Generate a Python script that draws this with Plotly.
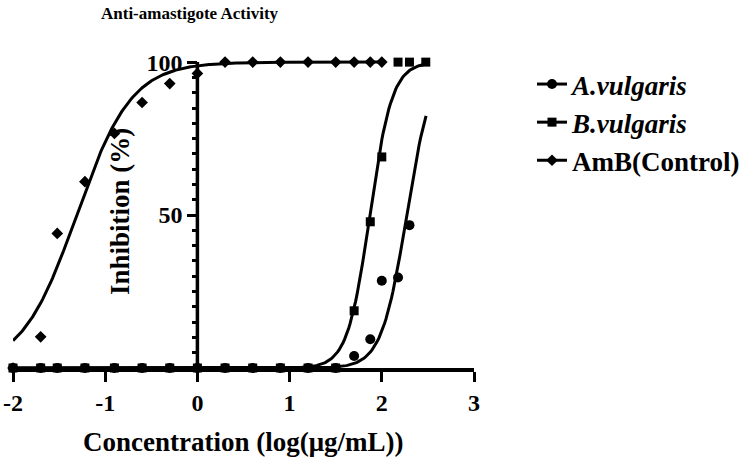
import numpy as np
import plotly.graph_objects as go

# ---- data ----
conc_low = [-2, -1.7, -1.52, -1.22, -0.9, -0.6, -0.3, 0, 0.3, 0.6, 0.9, 1.2, 1.5]
a_x = conc_low + [1.7, 1.875, 2.0, 2.176, 2.3]
a_y = [0] * 13 + [3.9, 9.4, 28.5, 29.6, 46.7]
b_x = conc_low + [1.7, 1.875, 2.0, 2.176, 2.3, 2.477]
b_y = [0] * 13 + [18.7, 47.8, 69.0, 100, 100, 100]
amb_x = [-2, -1.7, -1.52, -1.22, -0.9, -0.6, -0.3, 0, 0.3, 0.6, 0.9, 1.2, 1.5, 1.7, 1.875, 2.0]
amb_y = [0, 10.2, 44.0, 60.9, 76.7, 86.8, 93.0, 96.3, 100, 100, 100, 100, 100, 100, 100, 100]

# fitted dose-response parameters (logIC50, Hill slope, x-range of the fit)
a_fit = dict(logic50=2.27, hill=3.2, xmin=-2, xmax=2.48)
b_fit = dict(logic50=1.87, hill=3.6, xmin=-2, xmax=2.48)
amb_fit = dict(logic50=-1.31, hill=1.46, xmin=-2, xmax=2.0)

names = ["<b><i>A.vulgaris</i></b>", "<b><i>B.vulgaris</i></b>", "<b>AmB(Control)</b>"]
symbols = ["circle", "square", "diamond"]
msizes = [10, 9, 9]

x_ticks = [-2, -1, 0, 1, 2, 3]
y_tickvals = [0, 50, 100]
y_ticktext = ["", "50", "100"]

FONT = "Liberation Serif"


def hill_curve(p):
    xs = np.linspace(p["xmin"], p["xmax"], 300)
    ys = 100.0 / (1.0 + 10 ** ((p["logic50"] - xs) * p["hill"]))
    return xs, ys


fig = go.Figure()
series = [(a_x, a_y, a_fit), (b_x, b_y, b_fit), (amb_x, amb_y, amb_fit)]
for i, (sx, sy, fit) in enumerate(series):
    cx, cy = hill_curve(fit)
    fig.add_trace(go.Scatter(x=cx, y=cy, mode="lines", line=dict(color="black", width=3),
                             showlegend=False, hoverinfo="skip"))
for i, (sx, sy, fit) in enumerate(series):
    fig.add_trace(go.Scatter(x=sx, y=sy, mode="markers", cliponaxis=False,
                             marker=dict(symbol=symbols[i], size=msizes[i], color="black"),
                             showlegend=False))
for i in range(3):
    fig.add_trace(go.Scatter(x=[None], y=[None], mode="lines+markers", name=names[i],
                             line=dict(color="black", width=3),
                             marker=dict(symbol=symbols[i], size=msizes[i], color="black")))

W, H = 750, 457
ml, mr, mt, mb = 13, 276, 56, 89
pw, ph = W - ml - mr, H - mt - mb

fig.update_layout(
    width=W, height=H,
    margin=dict(l=ml, r=mr, t=mt, b=mb, autoexpand=False),
    paper_bgcolor="white", plot_bgcolor="white",
    font=dict(family=FONT, color="black"),
    showlegend=True,
    legend=dict(x=(532 - ml) / pw, y=1 - (60 - mt) / ph, xanchor="left", yanchor="top",
                font=dict(family=FONT, size=27, color="black"),
                bgcolor="rgba(0,0,0,0)"),
    xaxis=dict(range=[-2, 3], showline=True, linewidth=3.5, linecolor="black",
               ticks="outside", ticklen=10, tickwidth=3, tickcolor="black",
               tickvals=x_ticks, ticktext=[str(v) for v in x_ticks],
               tickfont=dict(family=FONT, size=24, weight="bold"),
               showgrid=False, zeroline=False, automargin=False),
    yaxis=dict(range=[0, 102], anchor="free", position=0.4, showline=False,
               ticks="outside", ticklen=10, tickwidth=3, tickcolor="black",
               tickvals=y_tickvals, ticktext=y_ticktext,
               tickfont=dict(family=FONT, size=24, weight="bold"),
               minor=dict(dtick=5, ticks="outside", ticklen=5, tickwidth=3, tickcolor="black"),
               showgrid=False, zeroline=False, automargin=False),
    shapes=[dict(type="line", xref="x", yref="y", x0=0, x1=0, y0=0, y1=100,
                 line=dict(color="black", width=3.5), layer="below")],
    annotations=[
        dict(text="<b>Anti-amastigote Activity</b>", xref="paper", yref="paper",
             x=(190 - ml) / pw, y=1 + (mt - 13) / ph, xanchor="center", yanchor="middle",
             showarrow=False, font=dict(family=FONT, size=17, color="black")),
        dict(text="<b>Concentration (log(μg/mL))</b>", xref="paper", yref="paper",
             x=(243 - ml) / pw, y=-(442 - (H - mb)) / ph, xanchor="center", yanchor="middle",
             showarrow=False, font=dict(family=FONT, size=27, color="black")),
        dict(text="<b>Inhibition (%)</b>", xref="paper", yref="paper",
             x=(120 - ml) / pw, y=1 - (212 - mt) / ph, xanchor="center", yanchor="middle",
             textangle=-90, showarrow=False, font=dict(family=FONT, size=27, color="black")),
    ],
)

fig.write_html("out.html")
